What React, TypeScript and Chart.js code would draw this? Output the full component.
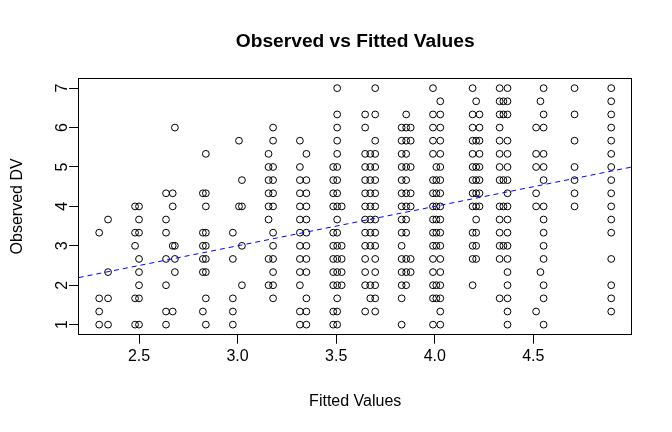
import React, { useEffect, useRef } from 'react';
import { Chart, registerables } from 'chart.js';

Chart.register(...registerables);

const chartTitle = 'Observed vs Fitted Values';
const xAxisTitle = 'Fitted Values';
const yAxisTitle = 'Observed DV';

const xTickValues = [2.5, 3.0, 3.5, 4.0, 4.5];
const yTickValues = [1, 2, 3, 4, 5, 6, 7];

// distinct fitted values (x) of the model
const fittedLevels = [
  2.298, 2.343, 2.48, 2.5, 2.637, 2.671, 2.682,
  2.824, 2.839, 2.976, 3.007, 3.022, 3.157, 3.18,
  3.316, 3.349, 3.485, 3.505, 3.528, 3.647, 3.673, 3.698,
  3.832, 3.855, 3.878, 3.991, 4.008, 4.028,
  4.192, 4.21, 4.227, 4.329, 4.348, 4.369,
  4.514, 4.536, 4.552, 4.709, 4.895,
];

// observed DV values found at each fitted value (same order as fittedLevels)
const observedByLevel = [
  [3.333, 1.667, 1.333, 1],
  [3.667, 2.333, 1.667, 1],
  [4, 3.333, 3, 1.667, 1],
  [4, 3.667, 3.333, 2.667, 2.333, 2, 1.667, 1],
  [4.333, 3.667, 3.333, 2.667, 2, 1.333, 1],
  [4.333, 4, 3, 1.333],
  [6, 3, 2.667, 2.333],
  [4.333, 3.333, 3, 2.667, 2.333, 1.333],
  [5.333, 4.333, 4, 3.333, 3, 2.667, 2.333, 1.667, 1],
  [3.333, 2.667, 1.667, 1.333, 1],
  [5.667, 4],
  [4.667, 4, 3, 2],
  [5.333, 5, 4.667, 4.333, 4, 3.667, 2.667, 2],
  [6, 5.667, 5, 4.667, 4.333, 4, 3.333, 3, 2.667, 2.333, 2, 1.667],
  [5.667, 5, 4.667, 4.333, 4, 3.667, 3.333, 3, 2.667, 2.333, 2, 1.333, 1],
  [5.333, 4.667, 4.333, 4, 3.667, 3.333, 3, 2.667, 2.333, 1.667, 1.333, 1],
  [5, 4.667, 4.333, 4, 3.333, 3, 2.667, 2.333, 2, 1.333, 1],
  [7, 6.333, 6, 5.667, 5.333, 5, 4.667, 4.333, 4, 3.667, 3.333, 3, 2.667, 2.333, 2, 1.667, 1.333, 1],
  [4, 3, 2.667, 2.333, 2],
  [6.333, 6, 5.333, 5, 4.667, 4.333, 4, 3.667, 3.333, 3, 2.667, 2.333, 2, 1.333],
  [5.333, 5, 4.667, 4.333, 4, 3.667, 3.333, 3, 2, 1.667],
  [7, 6.333, 5.667, 5.333, 5, 4.667, 4.333, 4, 3.667, 3.333, 3, 2.667, 2.333, 2, 1.667, 1.333],
  [6, 5.667, 5.333, 5, 4.667, 4.333, 4, 3.667, 3.333, 3, 2.667, 2.333, 2, 1.667, 1],
  [6.333, 6, 5.667, 5.333, 5, 4.667, 4.333, 4, 3.667, 3.333, 2.667, 2.333, 2],
  [6, 5.667, 5, 4.333, 4, 2.667, 2.333],
  [7, 6.333, 6, 5.667, 5.333, 4.667, 4.333, 4, 3.667, 3.333, 3, 2.667, 2.333, 2, 1.667, 1],
  [5, 4.667, 4.333, 4, 3.667, 3.333, 3, 2, 1.667],
  [6.667, 6.333, 6, 5.667, 5.333, 5, 4.667, 4.333, 4, 3.667, 3.333, 3, 2.667, 2.333, 2, 1.667, 1.333, 1],
  [7, 6.333, 6, 5.667, 5.333, 5, 4.667, 4.333, 4, 3.333, 3, 2.667, 2],
  [6.667, 5.667, 5, 4.667, 4.333, 4, 3.667, 3.333, 3, 2.667],
  [6.333, 6, 5.667, 5.333, 5, 4.667, 4.333, 4],
  [7, 6.667, 6.333, 6, 5.667, 5.333, 5, 4.667, 4, 3.667, 3.333, 3, 2.667, 1.667],
  [6.667, 6.333, 4.667, 4, 3],
  [7, 6.667, 6.333, 5.667, 5.333, 5, 4.667, 4.333, 4, 3.667, 3.333, 3, 2.667, 2.333, 2, 1.667, 1.333, 1],
  [6, 5.333, 5, 4.333, 4, 1.333],
  [6.667, 2.333],
  [7, 6.333, 6, 5.333, 5, 4.667, 4, 3.667, 3.333, 3, 2.667, 2, 1.667, 1],
  [7, 6.333, 5.667, 5, 4.667, 4.333, 4],
  [7, 6.667, 6.333, 6, 5.667, 5.333, 5, 4.667, 4.333, 4, 3.667, 3.333, 2.667, 2, 1.667, 1.333],
];

// reference line: observed = fitted
const refIntercept = 0;
const refSlope = 1;

const FONT = '"Liberation Sans", Arial, Helvetica, sans-serif';

function paddedRange(values: number[]): [number, number] {
  const lo = Math.min(...values);
  const hi = Math.max(...values);
  const d = (hi - lo) * 0.04;
  return [lo - d, hi + d];
}

const boxPlugin = {
  id: 'rBox',
  afterDatasetsDraw(chart: any) {
    const { ctx, chartArea: a } = chart;
    ctx.save();
    ctx.strokeStyle = '#000';
    ctx.lineWidth = 1;
    const l = Math.floor(a.left) + 0.5;
    const r = Math.floor(a.right) + 0.5;
    const t = Math.floor(a.top) + 0.5;
    const b = Math.floor(a.bottom) + 0.5;
    ctx.strokeRect(l, t, r - l, b - t);
    ctx.restore();
  },
};

export default function App() {
  const canvasRef = useRef<HTMLCanvasElement | null>(null);

  useEffect(() => {
    const canvas = canvasRef.current;
    if (!canvas) return;

    const points: { x: number; y: number }[] = [];
    fittedLevels.forEach((fx, i) => {
      observedByLevel[i].forEach((oy) => points.push({ x: fx, y: oy }));
    });
    const allY = observedByLevel.flat();
    const [xMin, xMax] = paddedRange(fittedLevels);
    const [yMin, yMax] = paddedRange(allY);

    const chart = new Chart(canvas, {
      type: 'scatter',
      data: {
        datasets: [
          {
            type: 'line',
            label: 'y = x',
            data: [
              { x: xMin, y: refIntercept + refSlope * xMin },
              { x: xMax, y: refIntercept + refSlope * xMax },
            ],
            borderColor: '#0000ff',
            borderWidth: 1,
            borderDash: [5, 4],
            pointRadius: 0,
            fill: false,
          } as any,
          {
            label: 'Observed',
            data: points,
            pointStyle: 'circle',
            pointRadius: 3.4,
            pointBorderWidth: 1,
            borderColor: '#000',
            backgroundColor: 'rgba(0,0,0,0)',
            pointBackgroundColor: 'rgba(0,0,0,0)',
            pointBorderColor: '#000',
          } as any,
        ],
      },
      options: {
        animation: false,
        responsive: false,
        devicePixelRatio: 1,
        layout: { padding: { top: 0, right: 40.3, bottom: 0, left: 0 } },
        plugins: {
          legend: { display: false },
          tooltip: { enabled: false },
          title: {
            display: true,
            text: chartTitle,
            fullSize: false,
            color: '#000',
            font: { family: FONT, size: 19.2, weight: 'bold', lineHeight: 1.2 },
            padding: { top: 30.5, bottom: 25.16 },
          },
        },
        scales: {
          x: {
            type: 'linear',
            min: xMin,
            max: xMax,
            afterBuildTicks: (s: any) => {
              s.ticks = xTickValues.map((v) => ({ value: v }));
            },
            afterFit: (s: any) => {
              s.height = 97.9;
            },
            border: { display: false },
            grid: {
              drawOnChartArea: false,
              drawTicks: true,
              tickLength: 9.6,
              color: '#000',
              lineWidth: 1,
            },
            ticks: {
              color: '#000',
              padding: 3.7,
              maxRotation: 0,
              autoSkip: false,
              font: { family: FONT, size: 16, lineHeight: 1.2 },
              callback: (v: any) => Number(v).toFixed(1),
            },
            title: {
              display: true,
              text: xAxisTitle,
              color: '#000',
              font: { family: FONT, size: 16, lineHeight: 1.2 },
              padding: { top: 0, bottom: 20.4 },
            },
          },
          y: {
            type: 'linear',
            min: yMin,
            max: yMax,
            afterBuildTicks: (s: any) => {
              s.ticks = yTickValues.map((v) => ({ value: v }));
            },
            afterFit: (s: any) => {
              s.width = 78.7;
            },
            border: { display: false },
            grid: {
              drawOnChartArea: false,
              drawTicks: true,
              tickLength: 9.6,
              color: '#000',
              lineWidth: 1,
            },
            ticks: {
              color: '#000',
              padding: 1.6,
              minRotation: 90,
              maxRotation: 90,
              crossAlign: 'center',
              autoSkip: false,
              font: { family: FONT, size: 16, lineHeight: 1.2 },
              callback: (v: any) => String(v),
            },
            title: {
              display: true,
              text: yAxisTitle,
              color: '#000',
              font: { family: FONT, size: 16, lineHeight: 1.2 },
              padding: { top: 8.4, bottom: 0 },
            },
          },
        },
      } as any,
      plugins: [boxPlugin],
    });

    return () => chart.destroy();
  }, []);

  return (
    <div style={{ position: 'fixed', left: 0, top: 0, width: 672, height: 432, background: '#fff' }}>
      <canvas ref={canvasRef} width={672} height={432} style={{ display: 'block', width: 672, height: 432 }} />
    </div>
  );
}
